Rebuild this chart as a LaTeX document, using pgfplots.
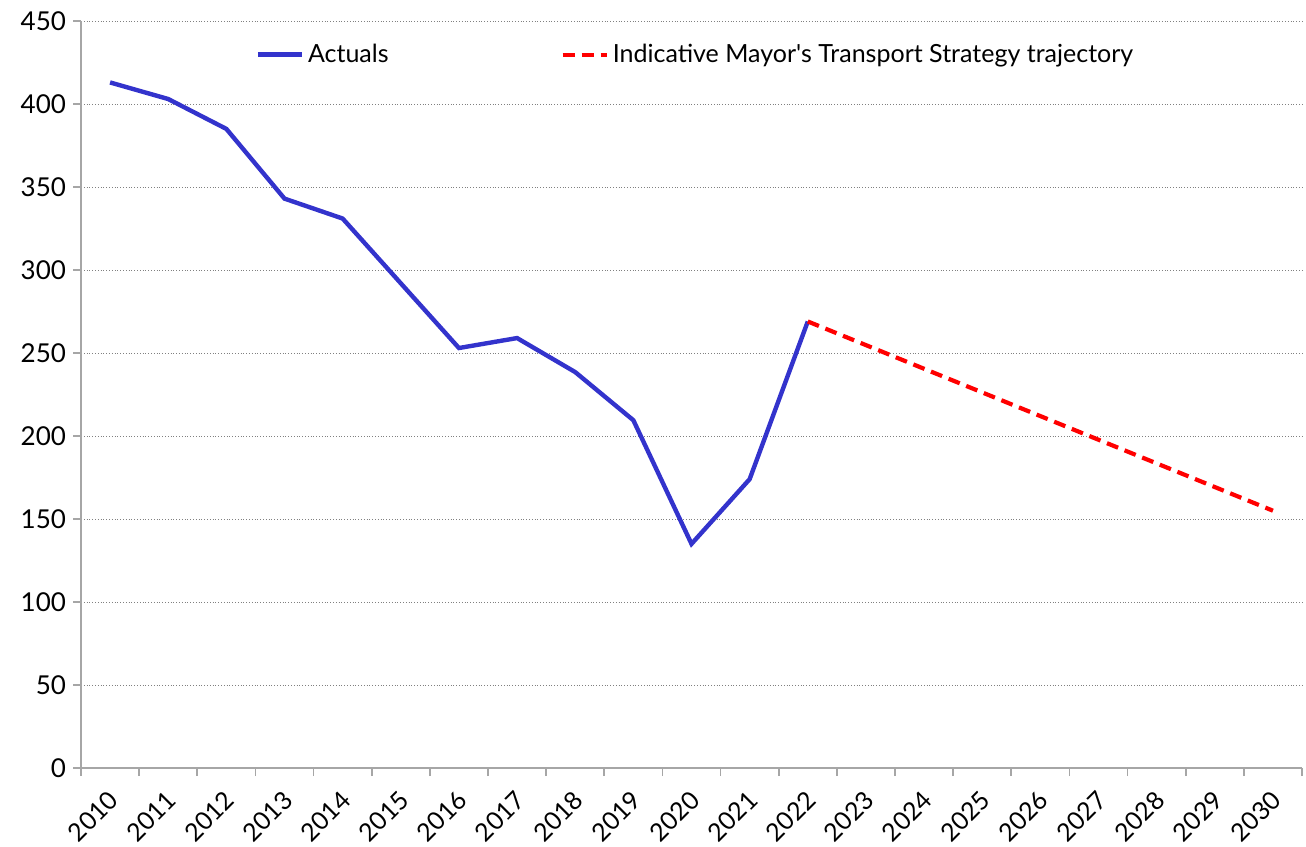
\documentclass[border=0pt]{standalone}
\usepackage{fontspec}
\setmainfont{Lato}
\usepackage{pgfplots}
\pgfplotsset{compat=1.18}
\definecolor{actblue}{RGB}{51,51,204}
\definecolor{axgrey}{RGB}{166,166,166}
\begin{document}
\begin{tikzpicture}
\begin{axis}[
  name=ax, at={(0,0)}, anchor=south west,
  scale only axis, width=610.5pt, height=373.5pt,
  xmin=-0.5, xmax=20.5, ymin=0, ymax=450,
  axis lines=left, axis line style={axgrey, line width=0.8pt, -},
  xtick={0,...,20},
  xticklabels={2010,2011,2012,2013,2014,2015,2016,2017,2018,2019,2020,2021,2022,2023,2024,2025,2026,2027,2028,2029,2030},
  major x tick style={draw=none},
  minor xtick={-0.5,0.5,...,20.5},
  ytick={0,50,...,450},
  tick align=outside,
  major tick length=4pt, minor tick length=4pt,
  tick style={axgrey, line width=0.8pt},
  ymajorgrids, grid style={densely dotted, gray, line width=0.5pt},
  /pgf/number format/assume math mode=true,
  yticklabel style={font=\fontsize{13}{15}\selectfont, black},
  xticklabel style={font=\fontsize{12.5}{15}\selectfont, black, xshift=-1.5pt, yshift=-5pt, rotate=45, anchor=north east, inner sep=1pt},
  legend style={at={(0.504,0.955)}, anchor=center, draw=none, fill=none,
    font=\fontsize{12.5}{15}\selectfont,
    /tikz/every even column/.append style={column sep=84pt}},
  legend columns=2,
  legend image code/.code={\draw[#1] (0pt,0pt) -- (22pt,0pt);},
]
\addplot[actblue, line width=2.2pt] coordinates {
(0,413)(1,403)(2,385)(3,343)(4,331)(5,292)(6,253)(7,259)(8,238.5)(9,209.5)(10,135)(11,174)(12,269)};
\addlegendentry{Actuals}
\addplot[red, line width=2.1pt, dash pattern=on 6pt off 3.5pt] coordinates {
(12,269)(20,155)};
\addlegendentry{Indicative Mayor\textquotesingle s Transport Strategy trajectory}
\end{axis}
\pgfresetboundingbox
\path[use as bounding box] (-40.5pt,-39pt) rectangle (612.5pt,384pt);
\end{tikzpicture}
\end{document}
